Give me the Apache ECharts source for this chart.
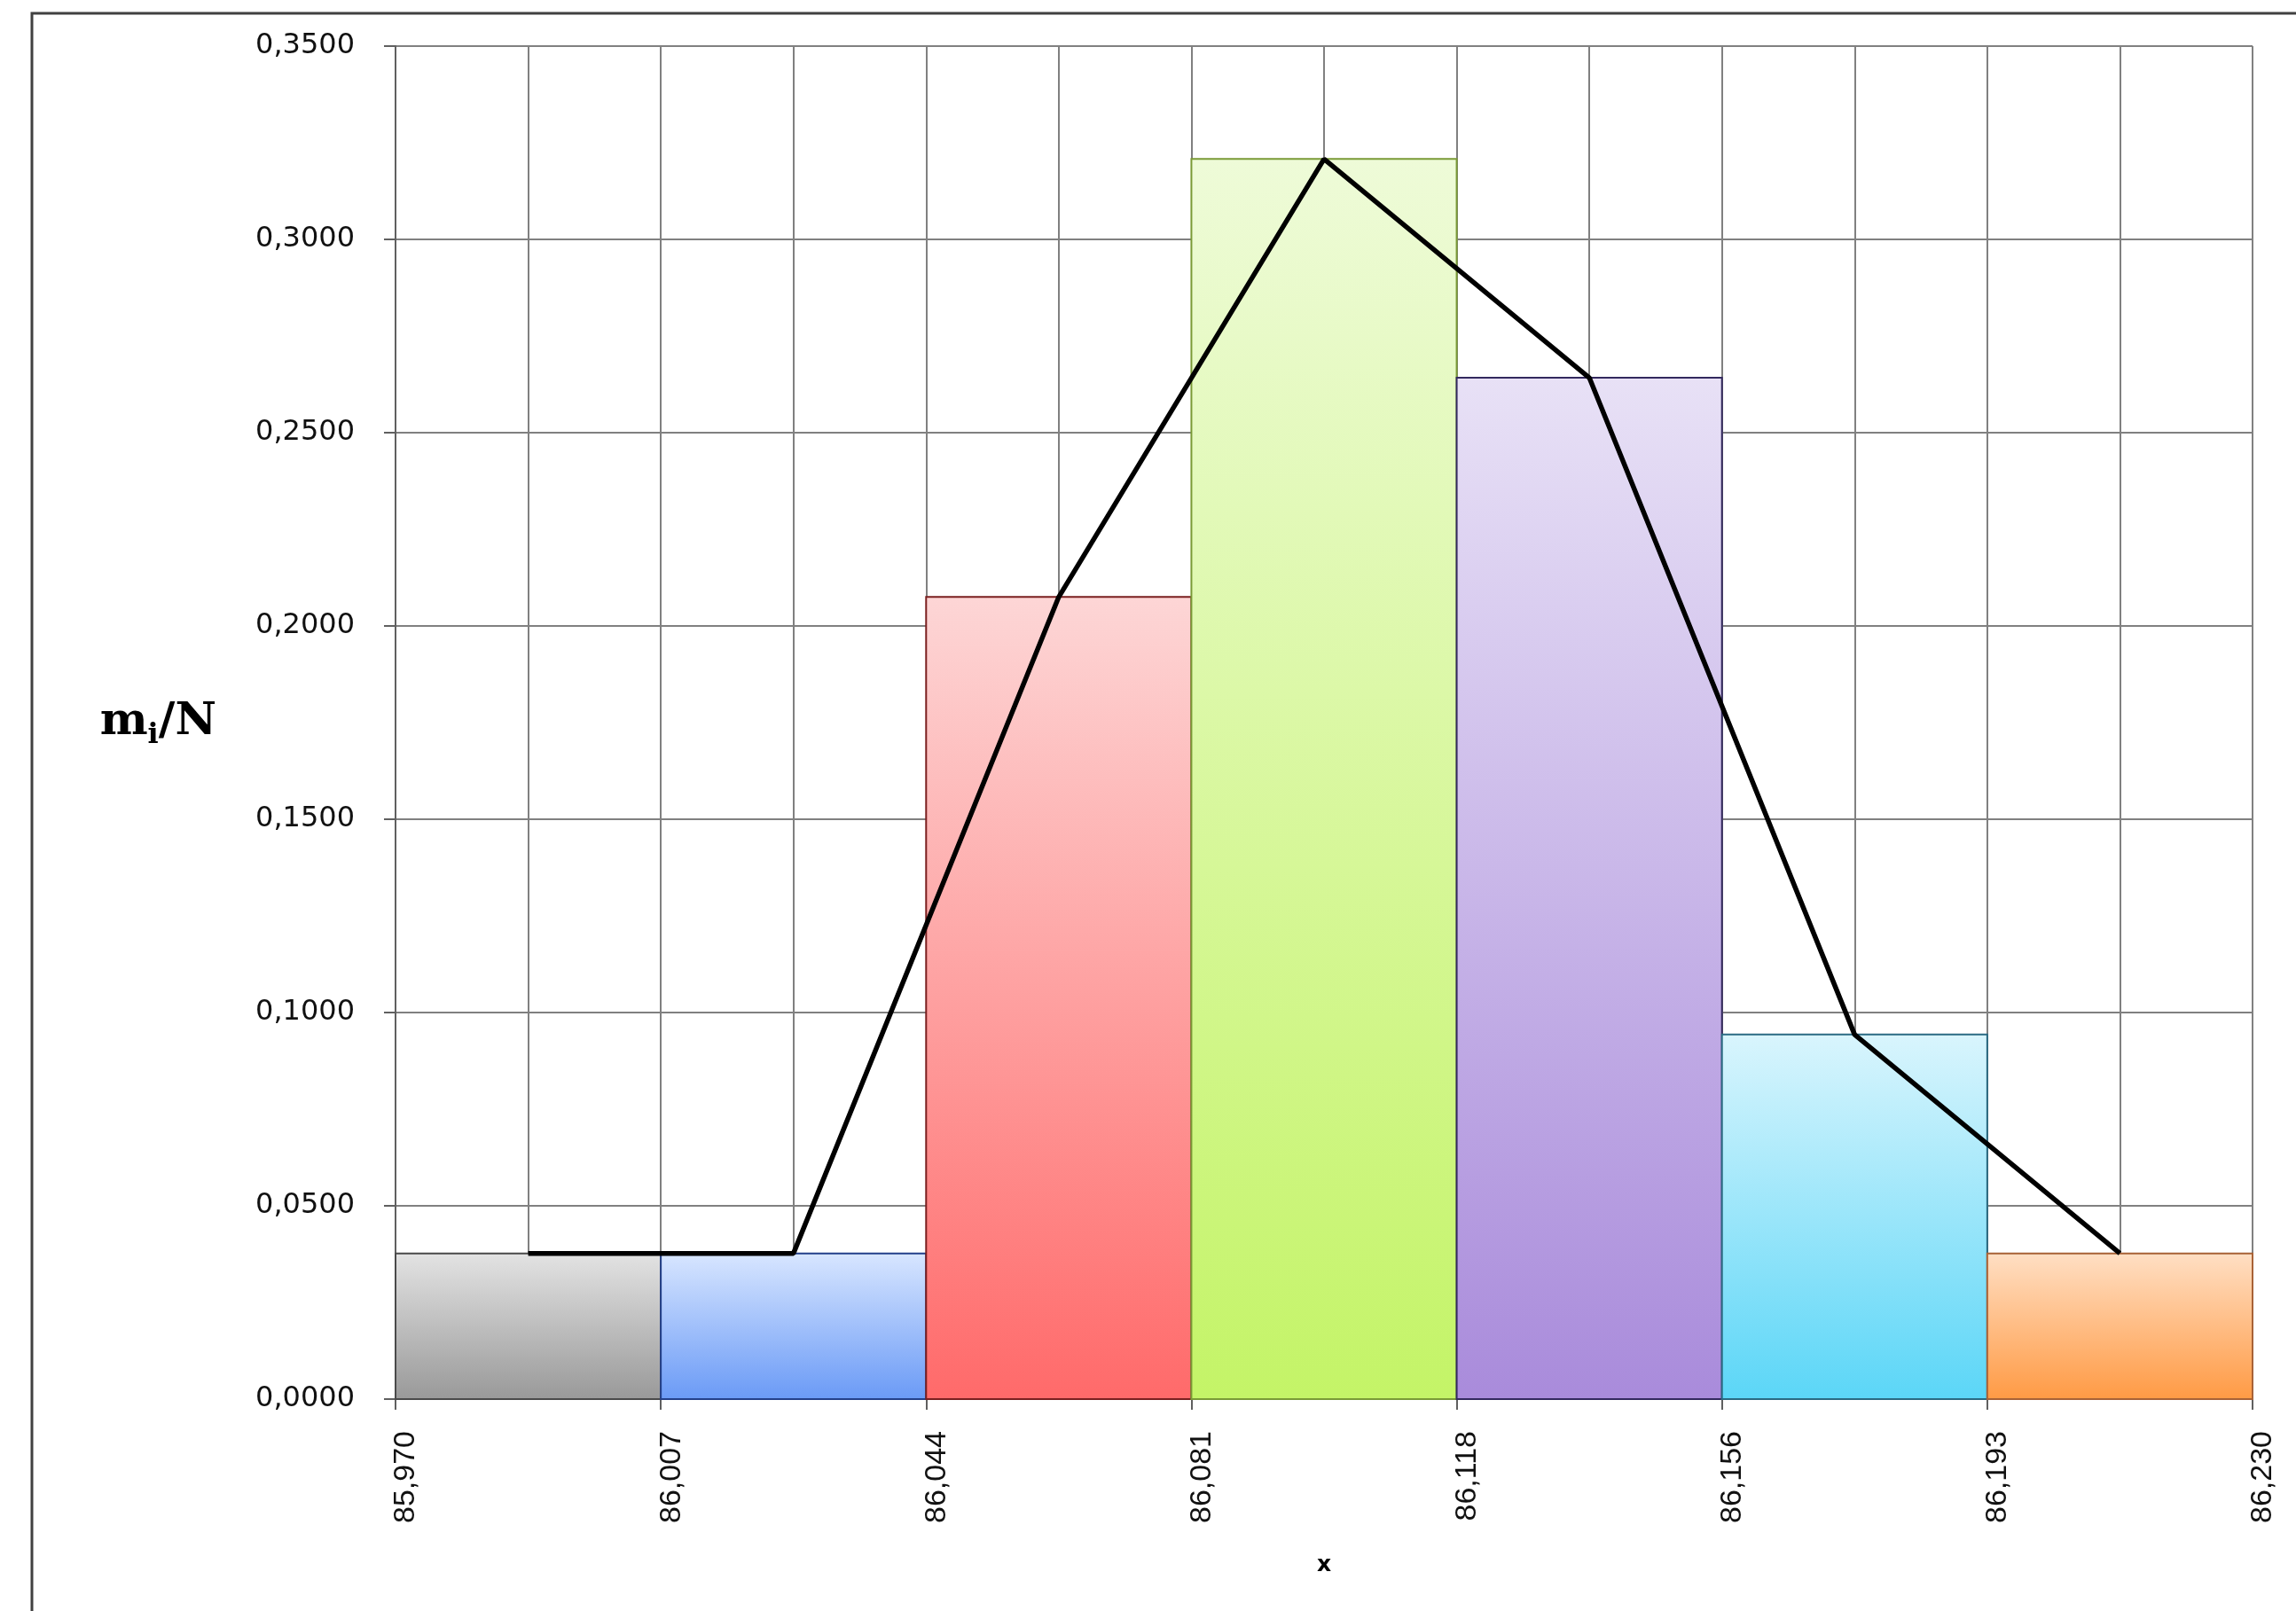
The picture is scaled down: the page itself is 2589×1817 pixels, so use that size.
<!DOCTYPE html>
<html>
<head>
<meta charset="utf-8">
<script src="https://cdn.jsdelivr.net/npm/echarts@6/dist/echarts.min.js"></script>
<style>
html,body{margin:0;padding:0;background:#fff;}
#chart{width:2589px;height:1817px;}
</style>
</head>
<body>
<div id="chart"></div>
<script>
// ---- data ----
var binEdgeLabels = ['85,970', '86,007', '86,044', '86,081', '86,118', '86,156', '86,193', '86,230'];
var relFreq = [0.0377, 0.0377, 0.2075, 0.3208, 0.2642, 0.0943, 0.0377];
var yTicks = { min: 0, max: 0.35, step: 0.05 };
var xTitle = 'x';

// ---- styles ----
var barTop =    ['#e3e3e3', '#d8e6ff', '#fdd6d6', '#eefbd8', '#e8e1f6', '#d9f5fd', '#ffdfc4'];
var barBottom = ['#999999', '#6a9af6', '#ff6a6a', '#c4f467', '#a98bdb', '#5bd6f7', '#ff9a44'];
var barBorder = ['#4a4a4a', '#23408a', '#7a1f1f', '#7a9a36', '#33295e', '#2a6a82', '#a86236'];

var chart = echarts.init(document.getElementById('chart'));

var binData = relFreq.map(function (v, i) { return [i, v]; });
var polyData = relFreq.map(function (v, i) { return [i + 0.5, v]; });

var option = {
  backgroundColor: '#ffffff',
  animation: false,
  grid: { left: 446, right: 49, top: 52, bottom: 239 },
  graphic: [{
    type: 'rect',
    shape: { x: 36, y: 15, width: 2700, height: 2000 },
    style: { fill: 'none', stroke: '#404040', lineWidth: 3 },
    silent: true
  }],
  xAxis: {
    type: 'value',
    min: 0,
    max: binEdgeLabels.length - 1,
    interval: 1,
    name: xTitle,
    nameLocation: 'middle',
    nameGap: 187,
    nameTextStyle: { fontFamily: 'DejaVu Sans', fontWeight: 'bold', fontSize: 25, color: '#000', verticalAlign: 'middle' },
    axisLine: { show: true, lineStyle: { color: '#606060', width: 2 } },
    axisTick: { show: true, inside: false, length: 12, lineStyle: { color: '#606060', width: 2 } },
    axisLabel: {
      rotate: 90,
      margin: 36,
      fontFamily: 'Liberation Sans',
      fontSize: 34,
      color: '#111',
      verticalAlign: 'top',
      lineHeight: 24,
      formatter: function (v) { return binEdgeLabels[Math.round(v)]; }
    },
    splitLine: { show: true, lineStyle: { color: '#808080', width: 2 } },
    minorTick: { show: false, splitNumber: 2 },
    minorSplitLine: { show: true, lineStyle: { color: '#808080', width: 2 } }
  },
  yAxis: {
    type: 'value',
    min: yTicks.min,
    max: yTicks.max,
    interval: yTicks.step,
    name: '{m|m}{s|i}{m|/N}',
    nameLocation: 'middle',
    nameGap: 202,
    nameRotate: 0,
    nameTextStyle: {
      align: 'right',
      verticalAlign: 'middle',
      rich: {
        m: { fontFamily: 'DejaVu Serif', fontWeight: 'bold', fontSize: 51, color: '#000', lineHeight: 62 },
        s: { fontFamily: 'DejaVu Serif', fontWeight: 'bold', fontSize: 32, color: '#000', lineHeight: 34, verticalAlign: 'bottom' }
      }
    },
    axisLine: { show: true, lineStyle: { color: '#606060', width: 2 } },
    axisTick: { show: true, inside: false, length: 13, lineStyle: { color: '#606060', width: 2 } },
    axisLabel: {
      margin: 46,
      fontFamily: 'DejaVu Sans',
      fontSize: 32,
      color: '#111',
      formatter: function (v) { return v.toFixed(4).replace('.', ','); }
    },
    splitLine: { show: true, lineStyle: { color: '#808080', width: 2 } }
  },
  series: [
    {
      type: 'custom',
      data: binData,
      z: 2,
      renderItem: function (params, api) {
        var i = api.value(0);
        var v = api.value(1);
        var p0 = api.coord([i, v]);
        var p1 = api.coord([i + 1, 0]);
        var idx = params.dataIndex;
        return {
          type: 'rect',
          shape: { x: p0[0], y: p0[1], width: p1[0] - p0[0], height: p1[1] - p0[1] },
          style: {
            fill: {
              type: 'linear', x: 0, y: 0, x2: 0, y2: 1,
              colorStops: [{ offset: 0, color: barTop[idx] }, { offset: 1, color: barBottom[idx] }]
            },
            stroke: barBorder[idx],
            lineWidth: 2
          }
        };
      }
    },
    {
      type: 'line',
      data: polyData,
      z: 5,
      symbol: 'none',
      lineStyle: { color: '#000', width: 5.5 }
    }
  ]
};
chart.setOption(option);
</script>
</body>
</html>
